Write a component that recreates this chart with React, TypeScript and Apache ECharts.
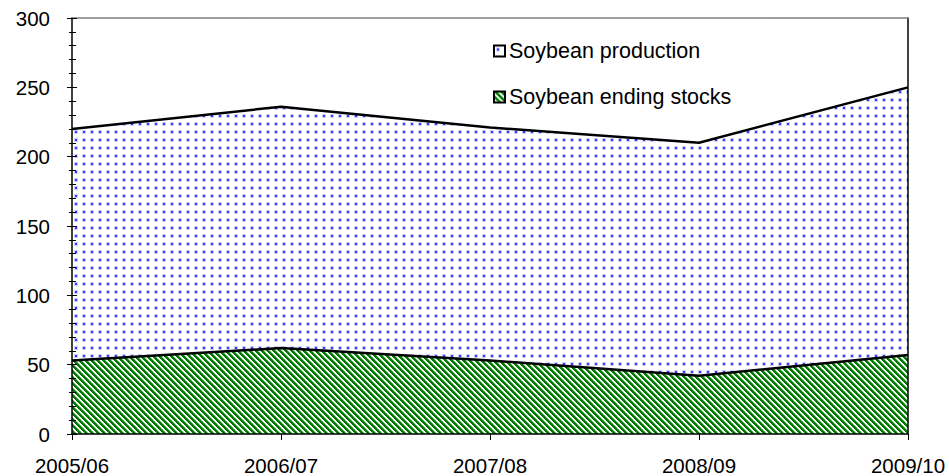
import React, { useEffect, useRef } from 'react';
import * as echarts from 'echarts';

const categories = ['2005/06', '2006/07', '2007/08', '2008/09', '2009/10'];
const production = [220, 236, 221, 210, 250];
const endingStocks = [53, 62, 53, 42, 57];
const seriesNames = ['Soybean production', 'Soybean ending stocks'];

const FONT = 'Arial, "Liberation Sans", sans-serif';

function dotPattern() {
  const c = document.createElement('canvas');
  c.width = 8;
  c.height = 8;
  const ctx = c.getContext('2d')!;
  ctx.fillStyle = '#ffffff';
  ctx.fillRect(0, 0, 8, 8);
  ctx.fillStyle = 'rgba(90,90,255,0.3)';
  ctx.fillRect(2, 2, 4, 4);
  ctx.fillStyle = '#3535ff';
  ctx.fillRect(3, 3, 2, 2);
  return { image: c, repeat: 'repeat', imageWidth: 8, imageHeight: 8 };
}

function hatchPattern() {
  const n = 6;
  const c = document.createElement('canvas');
  c.width = n;
  c.height = n;
  const ctx = c.getContext('2d')!;
  for (let y = 0; y < n; y++) {
    for (let x = 0; x < n; x++) {
      const k = (((x - y) % n) + n) % n;
      ctx.fillStyle = k < 3 ? '#007c00' : k === 3 ? '#7fbf7f' : '#ffffff';
      ctx.fillRect(x, y, 1, 1);
    }
  }
  return { image: c, repeat: 'repeat', imageWidth: n, imageHeight: n };
}

export default function App() {
  const ref = useRef<HTMLDivElement>(null);
  useEffect(() => {
    document.body.style.margin = '0';
    const chart = echarts.init(ref.current!, null, { renderer: 'svg' });
    const dots = dotPattern();
    const hatch = hatchPattern();
    const labelStyle = { color: '#000', fontSize: 20.5, fontFamily: FONT };
    chart.setOption({
      animation: false,
      backgroundColor: '#ffffff',
      grid: { left: 72, right: 41, top: 18, bottom: 42, containLabel: false },
      legend: {
        orient: 'vertical',
        left: 493,
        top: 40,
        padding: 0,
        itemGap: 24,
        itemWidth: 11,
        itemHeight: 11,
        icon: 'rect',
        textStyle: { color: '#000', fontSize: 21.5, fontFamily: FONT, padding: [0, 0, 0, -1] },
        data: [
          { name: seriesNames[0], itemStyle: { color: dots, borderColor: '#000', borderWidth: 2 } },
          { name: seriesNames[1], itemStyle: { color: hatch, borderColor: '#000', borderWidth: 2 } },
        ],
      },
      xAxis: [
        {
          type: 'category',
          data: categories,
          boundaryGap: false,
          position: 'bottom',
          z: 5,
          axisLine: { show: true, onZero: false, lineStyle: { color: '#000', width: 1.5 } },
          axisTick: { show: true, length: 6, lineStyle: { color: '#000', width: 1 } },
          axisLabel: { ...labelStyle, margin: 21, interval: 0 },
          splitLine: { show: false },
        },
        {
          type: 'category',
          data: categories,
          boundaryGap: false,
          position: 'top',
          z: 5,
          axisLine: { show: true, onZero: false, lineStyle: { color: '#808080', width: 1.5 } },
          axisTick: { show: false },
          axisLabel: { show: false },
          splitLine: { show: false },
        },
      ],
      yAxis: [
        {
          type: 'value',
          min: 0,
          max: 300,
          interval: 50,
          position: 'left',
          z: 5,
          axisLine: { show: true, onZero: false, lineStyle: { color: '#000', width: 1.5 } },
          axisTick: { show: true, length: 5, lineStyle: { color: '#000', width: 1 } },
          minorTick: { show: true, splitNumber: 5, length: 3, lineStyle: { color: '#000', width: 1 } },
          axisLabel: { ...labelStyle, margin: 22 },
          splitLine: { show: false },
        },
        {
          type: 'value',
          min: 0,
          max: 300,
          interval: 50,
          position: 'left',
          z: 5,
          axisLine: { show: false, onZero: false },
          axisTick: { show: true, inside: true, length: 5, lineStyle: { color: '#000', width: 1 } },
          minorTick: { show: true, splitNumber: 5, length: 4, lineStyle: { color: '#000', width: 1 } },
          axisLabel: { show: false },
          splitLine: { show: false },
        },
        {
          type: 'value',
          min: 0,
          max: 300,
          interval: 50,
          position: 'right',
          z: 5,
          axisLine: { show: true, onZero: false, lineStyle: { color: '#000', width: 1.5 } },
          axisTick: { show: false },
          axisLabel: { show: false },
          splitLine: { show: false },
        },
      ],
      series: [
        {
          name: seriesNames[0],
          type: 'line',
          data: production,
          symbol: 'none',
          z: 2,
          itemStyle: { color: dots, borderColor: '#000' },
          lineStyle: { color: '#000', width: 2.5 },
          areaStyle: { color: dots, opacity: 1 },
        },
        {
          name: seriesNames[1],
          type: 'line',
          data: endingStocks,
          symbol: 'none',
          z: 3,
          itemStyle: { color: hatch, borderColor: '#000' },
          lineStyle: { color: '#000', width: 2.5 },
          areaStyle: { color: hatch, opacity: 1 },
        },
      ],
    });
    return () => chart.dispose();
  }, []);
  return <div ref={ref} style={{ width: 949, height: 476 }} />;
}
